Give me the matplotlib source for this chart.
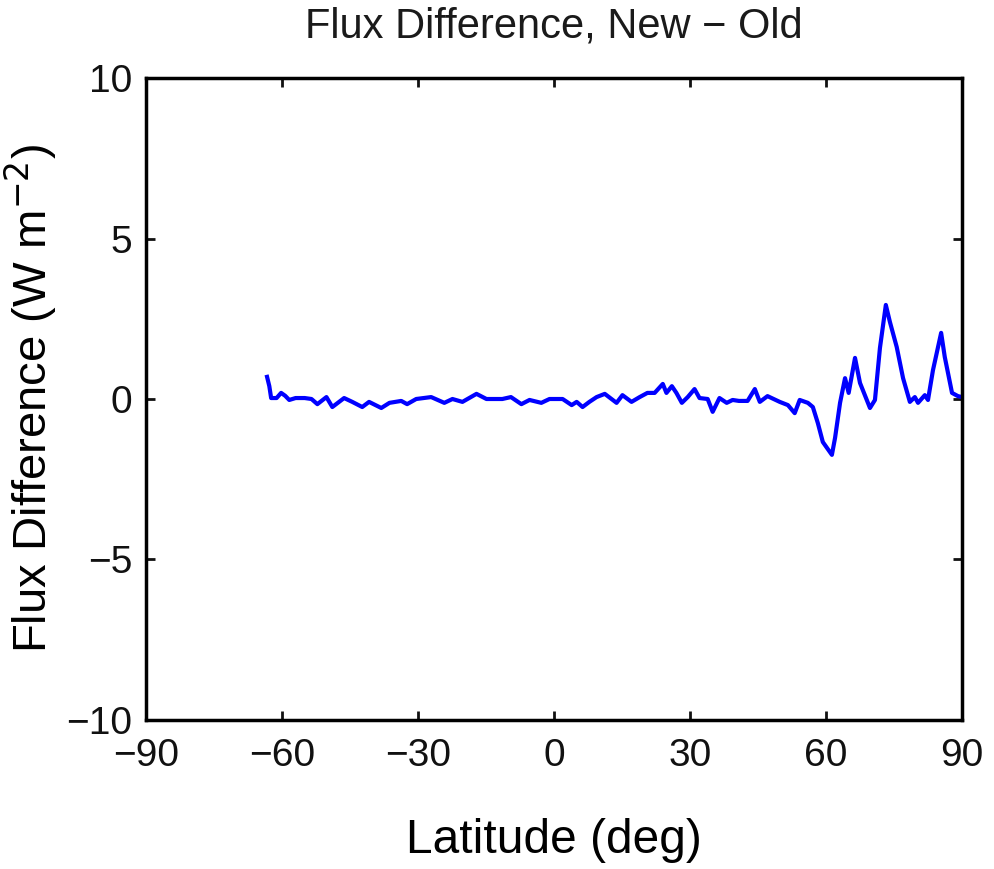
import numpy as np
import matplotlib
matplotlib.use("Agg")
import matplotlib.pyplot as plt

plt.rcParams["font.family"] = ["Liberation Sans", "DejaVu Sans"]

# latitude (deg) and flux difference (W m-2)
lat = [-63.3, -62.8, -62.4, -61.2, -60.2, -59.3, -58.4, -57.0, -55.0, -53.5, -52.2,
       -50.2, -48.9, -46.3, -44.5, -42.3, -40.8, -38.1, -36.3, -33.7, -32.4, -30.4,
       -27.1, -24.2, -22.4, -20.2, -17.1, -14.9, -12.5, -11.4, -9.5, -7.2, -5.4,
       -2.8, -1.0, 1.9, 3.9, 5.0, 6.3, 7.8, 9.4, 11.2, 13.8, 15.1, 17.1, 18.9,
       20.6, 22.2, 24.0, 24.8, 26.0, 27.0, 28.2, 29.5, 31.0, 32.1, 33.9, 35.0,
       36.5, 38.1, 39.4, 40.8, 42.7, 44.3, 45.4, 47.1, 49.8, 51.6, 53.1, 54.2,
       56.0, 57.1, 58.2, 59.3, 61.3, 62.0, 63.1, 64.2, 65.0, 66.4, 67.5, 69.7,
       70.8, 71.9, 73.2, 74.1, 75.6, 77.0, 78.5, 79.6, 80.3, 81.8, 82.5, 83.6,
       85.4, 86.2, 87.8, 89.1, 90.0]
flux = [0.69, 0.40, 0.03, 0.03, 0.19, 0.10, -0.03, 0.03, 0.03, 0.00, -0.16,
        0.06, -0.25, 0.03, -0.09, -0.25, -0.09, -0.28, -0.12, -0.06, -0.16, 0.00,
        0.06, -0.12, 0.00, -0.09, 0.16, 0.00, 0.00, 0.00, 0.06, -0.16, -0.03,
        -0.12, 0.00, 0.00, -0.19, -0.09, -0.25, -0.09, 0.06, 0.16, -0.12, 0.12,
        -0.09, 0.06, 0.19, 0.19, 0.47, 0.19, 0.40, 0.19, -0.12, 0.06, 0.31,
        0.03, 0.00, -0.40, 0.03, -0.12, -0.03, -0.06, -0.06, 0.31, -0.09, 0.09,
        -0.09, -0.19, -0.44, -0.03, -0.12, -0.25, -0.75, -1.34, -1.74, -1.21,
        -0.12, 0.65, 0.19, 1.28, 0.50, -0.28, -0.03, 1.59, 2.93, 2.40, 1.62,
        0.65, -0.09, 0.06, -0.12, 0.12, -0.03, 0.90, 2.06, 1.31, 0.19, 0.09, 0.06]

xticks = [-90, -60, -30, 0, 30, 60, 90]
yticks = [-10, -5, 0, 5, 10]

fig = plt.figure(figsize=(9.94, 8.69), dpi=100)
ax = fig.add_axes([0.1469, 0.1715, 0.8209, 0.7387])

ax.plot(lat, flux, color="#0000ff", lw=3)

ax.set_xlim(-90, 90)
ax.set_ylim(-10, 10)
ax.set_xticks(xticks)
ax.set_yticks(yticks)
ax.tick_params(direction="in", length=6.5, width=2, labelsize=28,
               top=True, right=True, colors="#111111")
ax.tick_params(axis="x", pad=13)
ax.tick_params(axis="y", pad=10)
for s in ax.spines.values():
    s.set_linewidth(2.5)

ax.set_title("Flux Difference, New \u2212 Old", fontsize=30, pad=29, color="#1a1a1a")
ax.set_xlabel("Latitude (deg)", fontsize=34.5, labelpad=32)
ax.set_ylabel("Flux Difference (W m$^{-2}$)", fontsize=34, labelpad=5)

fig.savefig("out.png", dpi=100)
